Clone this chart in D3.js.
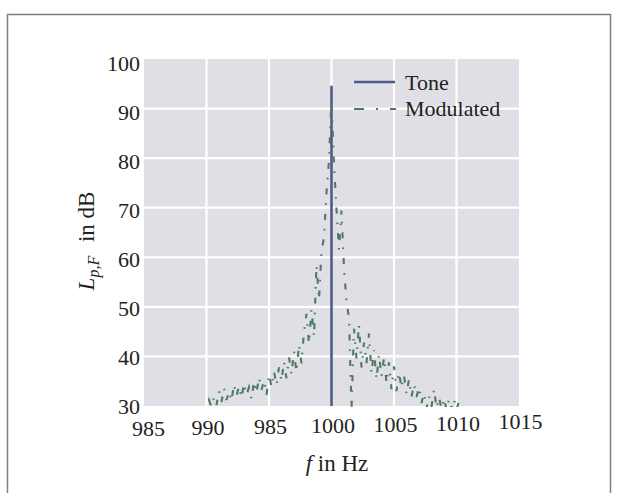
<!DOCTYPE html>
<html>
<head>
<meta charset="utf-8">
<script src="https://cdn.jsdelivr.net/npm/d3@7"></script>
<style>
  html, body { margin: 0; padding: 0; background: #ffffff; }
  svg text { font-family: "Liberation Serif", "Times New Roman", serif; fill: #231f20; }
</style>
</head>
<body>
<svg id="chart" width="618" height="493"></svg>
<script>
// ---- data ----
const xTickValues = [985, 990, 995, 1000, 1005, 1010, 1015];
const xTickLabels = ["985", "990", "985", "1000", "1005", "1010", "1015"];
const yTickValues = [30, 40, 50, 60, 70, 80, 90, 100];

const toneFreq = [1000, 1000];
const toneLevel = [30, 94.6];

const modFreq = [
  989.6, 989.8, 990.0, 990.2, 990.4, 990.6, 990.8, 991.0, 991.2, 991.4,
  991.6, 991.8, 992.0, 992.2, 992.4, 992.6, 992.8, 993.0, 993.2, 993.4,
  993.6, 993.8, 994.0, 994.2, 994.4, 994.6, 994.8, 995.0, 995.2, 995.4,
  995.6, 995.8, 996.0, 996.2, 996.4, 996.6, 996.8, 997.0, 997.2, 997.4,
  997.6, 997.8, 998.0, 998.2, 998.4, 998.6, 998.8, 999.0, 999.2, 999.4,
  999.6, 999.8, 1000.0, 1000.2, 1000.4, 1000.6, 1000.8, 1001.0, 1001.2, 1001.4,
  1001.6, 1001.8, 1002.0, 1002.2, 1002.4, 1002.6, 1002.8, 1003.0, 1003.2, 1003.4,
  1003.6, 1003.8, 1004.0, 1004.2, 1004.4, 1004.6, 1004.8, 1005.0, 1005.2, 1005.4,
  1005.6, 1005.8, 1006.0, 1006.2, 1006.4, 1006.6, 1006.8, 1007.0, 1007.2, 1007.4,
  1007.6, 1007.8, 1008.0, 1008.2, 1008.4, 1008.6, 1008.8, 1009.0, 1009.2, 1009.4,
  1009.6, 1009.8, 1010.0, 1010.2, 1010.4
];
const modLevel = [
  28.6, 30.4, 29.2, 31.2, 29.8, 31.8, 30.2, 33.0, 30.8, 33.6,
  31.2, 33.0, 31.0, 34.4, 32.0, 34.0, 31.6, 34.6, 32.2, 33.8,
  31.4, 35.0, 32.6, 35.8, 33.2, 35.2, 32.2, 36.4, 33.8, 37.0,
  34.2, 37.8, 35.0, 39.0, 35.6, 39.8, 36.4, 41.0, 36.8, 42.4,
  38.6, 45.0, 48.6, 42.6, 49.4, 44.0, 58.4, 51.4, 61.2, 64.0,
  73.0, 79.6, 92.0, 79.0, 69.6, 61.6, 69.4, 57.8, 51.0, 47.8,
  29.4, 45.6, 39.6, 46.4, 37.8, 42.8, 38.6, 44.6, 36.6, 41.2,
  35.4, 40.4, 36.0, 39.8, 34.6, 38.8, 33.4, 38.0, 33.0, 36.8,
  33.6, 36.2, 32.4, 35.4, 31.8, 34.4, 31.8, 33.8, 30.6, 32.6,
  29.4, 32.0, 29.8, 33.4, 29.6, 31.8, 29.4, 31.6, 29.2, 31.4,
  29.4, 31.4, 29.2, 31.0, 29.0
];

const legendLabels = ["Tone", "Modulated"];
const xTitle = "in Hz";
const yTitle = "in dB";

// ---- styles ----
const toneColor = "#4f5a87";
const modColor = "#4c7a62";
const bgColor = "#e0dfe6";

// ---- layout ----
const svg = d3.select("#chart");
const plot = { left: 144, right: 519, top: 59, bottom: 406 };

svg.append("rect")
  .attr("x", 7.5).attr("y", 14.5).attr("width", 603).attr("height", 500)
  .attr("fill", "none").attr("stroke", "#7f7f7f").attr("stroke-width", 1.5);

const x = d3.scaleLinear().domain([985, 1015]).range([plot.left, plot.right]);
const y = d3.scaleLinear().domain([30, 100]).range([plot.bottom, plot.top]);

svg.append("rect")
  .attr("x", plot.left).attr("y", plot.top)
  .attr("width", plot.right - plot.left).attr("height", plot.bottom - plot.top)
  .attr("fill", bgColor);

// grid
const grid = svg.append("g");
grid.selectAll("line.vx").data(xTickValues.slice(1, -1)).enter().append("line")
  .attr("x1", d => x(d)).attr("x2", d => x(d))
  .attr("y1", plot.top).attr("y2", plot.bottom)
  .attr("stroke", "#ffffff").attr("stroke-width", 2.2);
grid.selectAll("line.hy").data(yTickValues.slice(1, -1)).enter().append("line")
  .attr("x1", plot.left).attr("x2", plot.right)
  .attr("y1", d => y(d)).attr("y2", d => y(d))
  .attr("stroke", "#ffffff").attr("stroke-width", 2.2);

// axes (labels only)
const xAxis = d3.axisBottom(x).tickValues(xTickValues)
  .tickFormat((d, i) => xTickLabels[i]).tickSize(0).tickPadding(0);
const gx = svg.append("g").attr("transform", `translate(0,${plot.bottom})`).call(xAxis);
gx.select(".domain").remove();
gx.selectAll("text")
  .attr("font-size", 22)
  .attr("font-family", "Liberation Serif, serif")
  .attr("fill", "#231f20")
  .attr("dy", null)
  .attr("y", (d, i) => 30 - i * 1.1)
  .attr("dx", (d, i) => i === 0 ? 4 : 1);

const yAxis = d3.axisLeft(y).tickValues(yTickValues).tickSize(0).tickPadding(0);
const gy = svg.append("g").attr("transform", `translate(${plot.left - 4},0)`).call(yAxis);
gy.select(".domain").remove();
gy.selectAll("text")
  .attr("font-size", 22)
  .attr("font-family", "Liberation Serif, serif")
  .attr("fill", "#231f20")
  .attr("dy", d => (7.5 + (d - 30) * 0.06) + "px");

// clip
svg.append("clipPath").attr("id", "clip").append("rect")
  .attr("x", plot.left).attr("y", plot.top - 2)
  .attr("width", plot.right - plot.left).attr("height", plot.bottom - plot.top + 3);

const line = d3.line().x(d => x(d[0])).y(d => y(d[1]));

svg.append("path")
  .datum(d3.zip(toneFreq, toneLevel))
  .attr("clip-path", "url(#clip)")
  .attr("d", line)
  .attr("fill", "none").attr("stroke", toneColor).attr("stroke-width", 2.6);

svg.append("path")
  .datum(d3.zip(modFreq, modLevel))
  .attr("clip-path", "url(#clip)")
  .attr("d", line)
  .attr("fill", "none").attr("stroke", modColor).attr("stroke-width", 2.1)
  .attr("stroke-dasharray", "6,9,1.6,9");

// legend
const lg = svg.append("g");
lg.append("line").attr("x1", 354).attr("x2", 395).attr("y1", 82).attr("y2", 82)
  .attr("stroke", toneColor).attr("stroke-width", 2.6);
lg.append("line").attr("x1", 354).attr("x2", 396).attr("y1", 109).attr("y2", 109)
  .attr("stroke", modColor).attr("stroke-width", 2.2)
  .attr("stroke-dasharray", "10,12,2,12");
lg.selectAll("text").data(legendLabels).enter().append("text")
  .attr("x", 405).attr("y", (d, i) => 90 + i * 26)
  .attr("font-size", 22)
  .text(d => d);

// axis titles
const xt = svg.append("text").attr("x", 337).attr("y", 471)
  .attr("text-anchor", "middle").attr("font-size", 23);
xt.append("tspan").attr("font-style", "italic").text("f");
xt.append("tspan").text(" " + xTitle);

const yt = svg.append("text")
  .attr("transform", "translate(94,241) rotate(-90)")
  .attr("text-anchor", "middle").attr("font-size", 23);
yt.append("tspan").attr("font-style", "italic").text("L");
yt.append("tspan").attr("font-style", "italic").attr("font-size", 16).attr("dy", 5).text("p,F");
yt.append("tspan").attr("dy", -5).attr("xml:space", "preserve").attr("dx", 8).text(" " + yTitle);
</script>
</body>
</html>
